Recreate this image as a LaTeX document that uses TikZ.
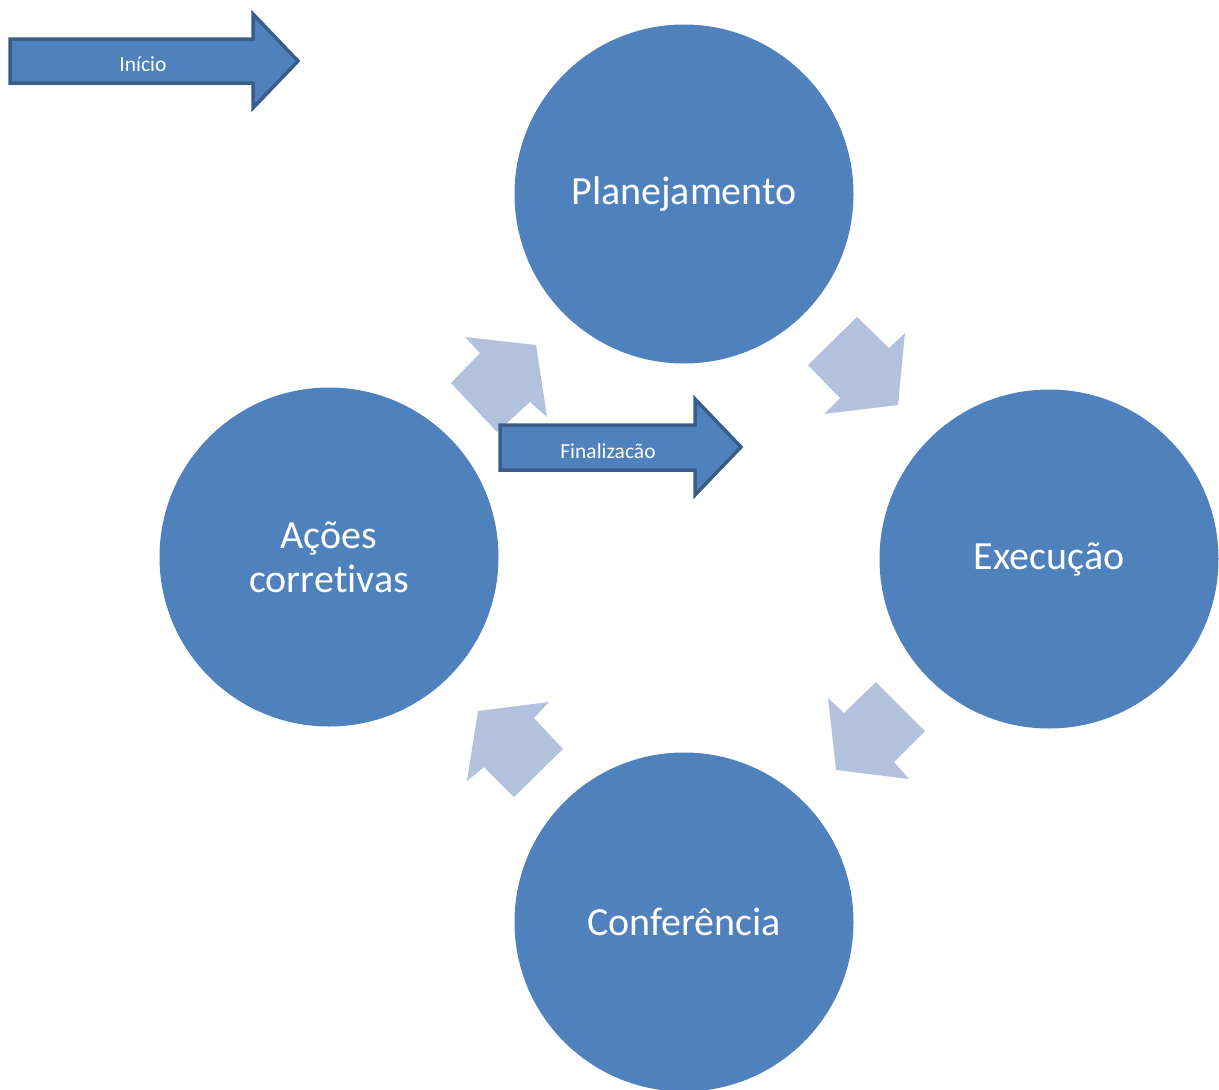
\documentclass[tikz,border=0pt]{standalone}
\usepackage{fontspec}
\setmainfont[RawFeature={-liga;-clig;-calt}]{Carlito}
\definecolor{stepblue}{HTML}{4F81BD}
\definecolor{stepedge}{HTML}{385D8A}
\definecolor{flowlight}{HTML}{B3C2DC}
\begin{document}
\begin{tikzpicture}[x=1pt,y=-1pt,
  stage/.style={circle, fill=stepblue, minimum size=339pt, inner sep=0pt,
    text=white, font=\fontsize{40}{44}\selectfont, align=center},
  flow/.style={fill=flowlight, draw=none},
  bigarrow/.style={fill=stepblue, draw=stepedge, line width=3.5pt, line join=miter},
  arrowlabel/.style={text=white, font=\fontsize{21.5}{24}\selectfont, inner sep=0pt}]
\useasboundingbox (0,0) rectangle (1219,1090);
\clip (0,0) rectangle (1219,1090);

% the four stages of the cycle
\node[stage] (plan) at (684,194) {Planejamento};
\node[stage] (exec) at (1049,559) {Execução};
\node[stage] (conf) at (684,922) {Conferência};
\node[stage] (acao) at (329,557) {Ações\\corret\kern0pt ivas};

% light block arrows between the stages
\fill[flow] (857,317) -- (889,348) -- (905,333) -- (898,405) -- (824,414) -- (840,398) -- (808,365) -- cycle;
\fill[flow] (876,682) -- (925,731) -- (894,762) -- (909,779) -- (836,770) -- (828,698) -- (844,713) -- cycle;
\fill[flow] (549,702) -- (534,718) -- (563,749) -- (514,797) -- (484,767) -- (467,781) -- (478,711) -- cycle;
\fill[flow] (465,337) -- (536,345) -- (547,417) -- (530,402) -- (497,432) -- (451,383) -- (480,353) -- cycle;

% start arrow
\draw[bigarrow] (10,39) -- (253,39) -- (253,14) -- (298,61) -- (253,108) -- (253,83) -- (10,83) -- cycle;
\node[arrowlabel] (inicio) at (143,64) {Início};

% end arrow
\draw[bigarrow] (500,425) -- (695,425) -- (695,399) -- (741,447) -- (695,495) -- (695,470) -- (500,470) -- cycle;
\node[arrowlabel] (fim) at (608,451) {Finalizacão};
\end{tikzpicture}
\end{document}
